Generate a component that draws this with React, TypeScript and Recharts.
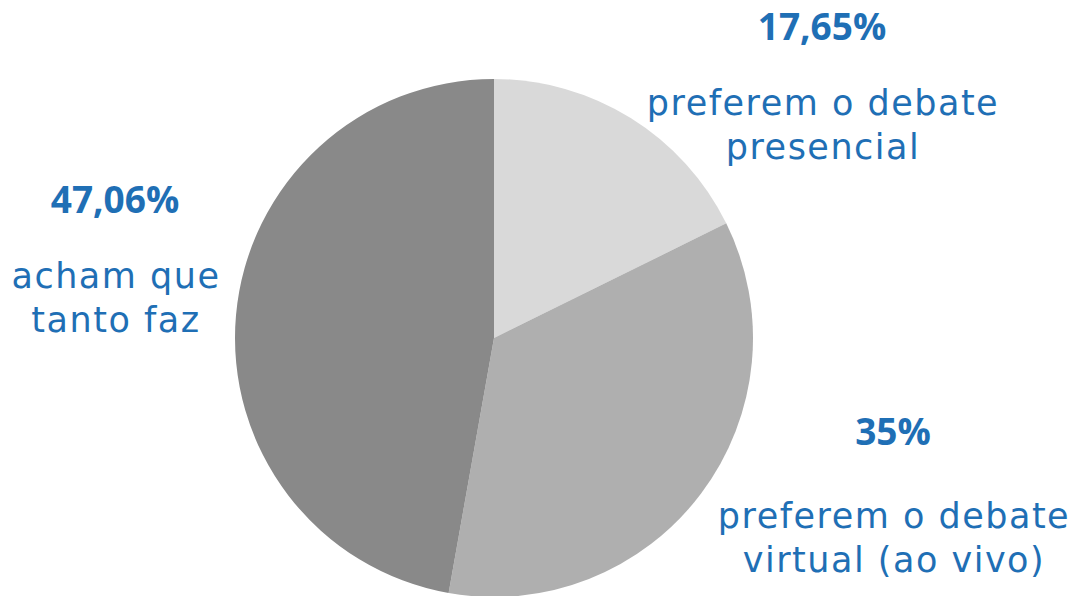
import React from 'react';
import { PieChart, Pie, Cell } from 'recharts';

const categories = ['preferem o debate presencial', 'preferem o debate virtual (ao vivo)', 'acham que tanto faz'];
const values = [17.65, 35, 47.06];
const labelLines = [
  ['preferem o debate', 'presencial'],
  ['preferem o debate', 'virtual (ao vivo)'],
  ['acham que', 'tanto faz'],
];
const colors = ['#d9d9d9', '#afafaf', '#898989'];

// label layout: anchor x, percent baseline y, first text line baseline y (absolute)
const labelLayout = [
  { x: 822, py: 40, ty: 115 },
  { x: 893, py: 445, ty: 528 },
  { x: 115, py: 213, ty: 288 },
];

const data = categories.map((name, i) => ({ name, value: values[i] }));

const BLUE = '#1f6fb5';
const PCT_FONT = '"Open Sans", sans-serif';
const TXT_FONT = '"DejaVu Sans", sans-serif';

const renderLabel = (props: any) => {
  const i = props.index;
  const pos = labelLayout[i];
  const pct = String(values[i]).replace('.', ',') + '%';
  return (
    <g key={'lbl' + i}>
      <text x={pos.x} y={pos.py} textAnchor="middle" fill={BLUE} fontFamily={PCT_FONT} fontWeight={700} fontSize={37}>
        {pct}
      </text>
      {labelLines[i].map((line, j) => (
        <text
          key={j}
          x={pos.x + 1}
          y={pos.ty + j * 44}
          textAnchor="middle"
          fill={BLUE}
          fontFamily={TXT_FONT}
          fontWeight={400}
          fontSize={35}
          letterSpacing={1.5}
        >
          {line}
        </text>
      ))}
    </g>
  );
};

export default function App() {
  return (
    <div style={{ position: 'absolute', left: 0, top: 0, width: 1071, height: 596, background: '#fff' }}>
      <PieChart width={1071} height={596} margin={{ top: 0, right: 0, bottom: 0, left: 0 }}>
        <Pie
          data={data}
          dataKey="value"
          nameKey="name"
          cx={494}
          cy={338}
          outerRadius={259}
          startAngle={90}
          endAngle={-270}
          stroke="none"
          label={renderLabel}
          labelLine={false}
          isAnimationActive={false}
        >
          {data.map((d, i) => (
            <Cell key={d.name} fill={colors[i]} />
          ))}
        </Pie>
      </PieChart>
    </div>
  );
}
